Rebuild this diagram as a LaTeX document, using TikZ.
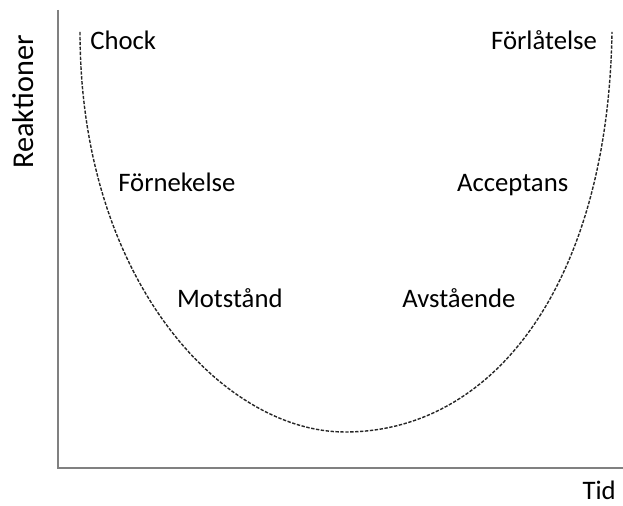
\documentclass[tikz,border=0pt]{standalone}
\usepackage{fontspec}
\setmainfont{Carlito}
\definecolor{axisgray}{HTML}{808080}
\definecolor{curvegray}{HTML}{262626}
\tikzset{
  fas axis/.style={draw=axisgray,line width=1.9pt},
  fas curve/.style={curvegray,line width=1pt,dash pattern=on 2.4pt off 1.1pt},
  fas label/.style={font=\fontsize{19}{23}\selectfont,anchor=base west,inner sep=0pt}
}

\begin{document}
\begin{tikzpicture}
  \useasboundingbox (0,0) rectangle (15.575,12.65);
  % axes
  \coordinate (o) at (1.45,.95); \coordinate (ytop) at (1.45,12.4);
  \coordinate (xend) at (15.575,.95);
  \draw[fas axis] (ytop) -- (o) -- (xend);
  \node[fas label,font=\fontsize{21.5}{25}\selectfont,anchor=base,rotate=90] (reak) at (.83,10.1) {Reaktioner};
  \node[fas label,anchor=base east] (tid) at (15.4,.16) {Tid};
  % the curve
  \draw[fas curve] (2,11.85) .. controls (2,5.6) and (5.6,1.85) .. (8.625,1.85)
    .. controls (12.375,1.85) and (15.2,5.6) .. (15.3,11.85);
  % phases
  \node[fas label] (chock) at (2.25,11.41) {Chock};
  \node[fas label] (forn) at (2.95,7.85) {Förnekelse};
  \node[fas label] (mot) at (4.42,4.97) {Motstånd};
  \node[fas label] (avst) at (10.05,4.97) {Avstående};
  \node[fas label] (acc) at (11.42,7.87) {Acceptans};
  \node[fas label,anchor=base east] (forl) at (14.93,11.41) {Förlåtelse};
\end{tikzpicture}
\end{document}
